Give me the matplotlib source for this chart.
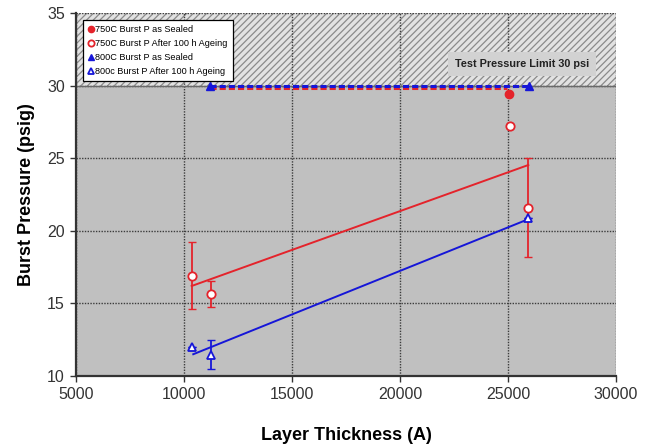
import matplotlib
matplotlib.use("Agg")
import matplotlib.pyplot as plt

# ==============================
# Data
# ==============================
# as sealed: dashed limit lines near 30 psi
sealed_750_line_x = [11200, 24950]
sealed_750_line_y = [29.85, 29.85]
sealed_750_x = [25050]
sealed_750_y = [29.42]

sealed_800_x = [11200, 25990]
sealed_800_y = [30.0, 30.0]

# after 100 h ageing
aged_750_x = [10356, 11236, 25100, 25940]
aged_750_y = [16.9, 15.65, 27.2, 21.6]
aged_750_err = [2.3, 0.87, 0.0, 3.43]

aged_800_x = [10356, 11236, 25940]
aged_800_y = [11.97, 11.45, 20.86]
aged_800_err = [0.0, 1.0, 0.0]

# trend lines
fit_750_x = [10356, 25940]
fit_750_y = [16.2, 24.53]
fit_800_x = [10430, 25940]
fit_800_y = [11.5, 20.8]

x_ticks = [5000, 10000, 15000, 20000, 25000, 30000]
y_ticks = [10, 15, 20, 25, 30, 35]

RED = "#e4232b"
BLUE = "#1616d8"

plt.rcParams["font.family"] = ["Liberation Sans", "DejaVu Sans"]
plt.rcParams["hatch.linewidth"] = 0.9

fig = plt.figure(figsize=(6.46, 4.47), dpi=100)
ax = fig.add_axes([0.1176, 0.1588, 0.836, 0.8122])
ax.set_facecolor("#c0c0c0")
ax.set_xlim(5000, 30000)
ax.set_ylim(10, 35)

# hatched region above test limit
ax.axhspan(30, 35, facecolor="#e2e2e2", hatch="/////", edgecolor="#8a8a8a",
           linewidth=0, zorder=0.5)

ax.set_xticks(x_ticks)
ax.set_yticks(y_ticks)
ax.grid(True, color="#3c3c3c", linestyle=(0, (1, 1)), linewidth=1.0, zorder=1)
ax.set_axisbelow(True)
ax.axhline(30, color="#6a6a6a", linewidth=1.0, zorder=1)

# trend lines
ax.plot(fit_750_x, fit_750_y, color=RED, linewidth=1.4, zorder=3)
ax.plot(fit_800_x, fit_800_y, color=BLUE, linewidth=1.4, zorder=3)

# error bars
ax.errorbar(aged_750_x, aged_750_y, yerr=aged_750_err, fmt="none",
            ecolor=RED, elinewidth=1.3, capsize=3, capthick=1.0, zorder=3)
ax.errorbar(aged_800_x, aged_800_y, yerr=aged_800_err, fmt="none",
            ecolor=BLUE, elinewidth=1.3, capsize=3, capthick=1.0, zorder=3)

# sealed lines and markers
ax.plot(sealed_750_line_x, sealed_750_line_y, color=RED, linewidth=2.2,
        linestyle=(0, (2, 1)), zorder=4)
ax.plot(sealed_800_x, sealed_800_y, color=BLUE, linewidth=2.2,
        linestyle=(0, (2, 1)), zorder=4)
h1, = ax.plot(sealed_750_x, sealed_750_y, "o", color=RED, markersize=6, zorder=5,
              label="750C Burst P as Sealed")
h3, = ax.plot(sealed_800_x, sealed_800_y, "^", color=BLUE, markersize=6,
              linestyle="none", zorder=5, label="800C Burst P as Sealed")

# aged markers
h2, = ax.plot(aged_750_x, aged_750_y, "o", color=RED, markerfacecolor="white",
              markeredgewidth=1.3, markersize=6, zorder=5,
              label="750C Burst P After 100 h Ageing")
h4, = ax.plot(aged_800_x, aged_800_y, "^", color=BLUE, markerfacecolor="white",
              markeredgewidth=1.3, markersize=6, zorder=5,
              label="800c Burst P After 100 h Ageing")

leg = ax.legend(handles=[h1, h2, h3, h4], loc="upper left",
                bbox_to_anchor=(0.013, 0.981), borderaxespad=0,
                fontsize=6.6, handlelength=0.6, handletextpad=0.2,
                labelspacing=0.55, markerscale=0.75, frameon=True,
                fancybox=False, borderpad=0.55)
leg.get_frame().set_edgecolor("black")
leg.get_frame().set_linewidth(0.9)
leg.get_frame().set_facecolor("white")
leg.get_frame().set_alpha(1)
leg.set_zorder(6)

ax.text(25650, 31.5, "Test Pressure Limit 30 psi", fontsize=7.8,
        fontweight="bold", ha="center", va="center", color="#222222",
        bbox=dict(facecolor="#d2d2d2", edgecolor="none", pad=5), zorder=6)

for s in ["top", "right"]:
    ax.spines[s].set_visible(False)
for s in ["left", "bottom"]:
    ax.spines[s].set_color("#333333")
    ax.spines[s].set_linewidth(1.6)

ax.tick_params(axis="both", labelsize=11.5, colors="#333333", length=4,
               width=1.0, direction="out", pad=4)

ax.set_xlabel("Layer Thickness (A)", fontsize=13, fontweight="bold",
              labelpad=18)
ax.set_ylabel("Burst Pressure (psig)", fontsize=13, fontweight="bold",
              labelpad=9)

fig.savefig("out.png", dpi=100)
